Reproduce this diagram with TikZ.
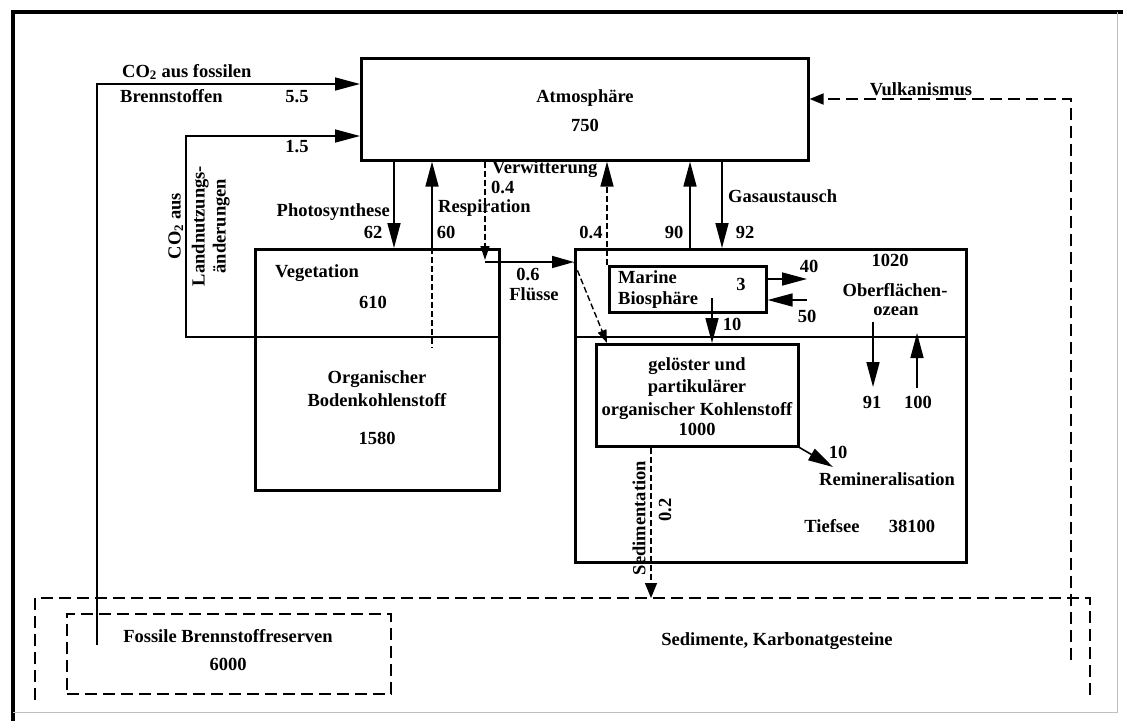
\documentclass[tikz,border=0pt]{standalone}
\usepackage{fontspec}
\setmainfont{Liberation Serif}
\usetikzlibrary{arrows.meta}
\begin{document}
\begin{tikzpicture}[x=1pt,y=-1pt,
  font=\fontsize{18.5}{21}\selectfont\bfseries,
  boxst/.style={draw, line width=2.6pt, inner sep=0, anchor=north west},
  dbox/.style={draw, line width=1.8pt, dash pattern=on 12pt off 6pt, inner sep=0, anchor=north west},
  arr/.style={line width=1.6pt, -{Triangle[length=25pt,width=13pt]}},
  fdsh/.style={line width=1.4pt, dash pattern=on 6pt off 3pt},
  sdsh/.style={line width=1.8pt, dash pattern=on 12pt off 6pt},
  lab/.style={inner sep=0, anchor=mid, yshift=-3pt},
  labw/.style={inner sep=0, anchor=mid west, yshift=-3pt},
  labe/.style={inner sep=0, anchor=mid east, yshift=-3pt},
  rlab/.style={inner sep=0, rotate=90, align=center}
]
\useasboundingbox (0,0) rectangle (1123,721);
% frame
\draw[line width=4pt] (1123,12) -- (13,12) -- (13,721);
\draw[black!25, line width=1pt] (1117,12) -- (1117,712) -- (13,712);

% boxes
\node[boxst, minimum width=447pt, minimum height=102pt] (atm) at (360,57) {};
\node[boxst, minimum width=244pt, minimum height=241pt] (veg) at (254,248) {};
\node[boxst, minimum width=391pt, minimum height=313pt] (ocn) at (574,248) {};
\node[boxst, minimum width=157pt, minimum height=46pt] (mar) at (608,265) {};
\node[boxst, minimum width=202pt, minimum height=102pt] (doc) at (595,343) {};
\node[dbox, minimum width=324pt, minimum height=80pt] (fos) at (66,613) {};

% dividers
\coordinate (vd1) at (veg.west |- 0,337);
\coordinate (vd2) at (veg.east |- 0,337);
\draw[line width=2.6pt] (vd1) -- (vd2);
\coordinate (od1) at (ocn.west |- 0,337);
\coordinate (od2) at (ocn.east |- 0,337);
\draw[line width=2.6pt] (od1) -- (od2);

% sediment region
\coordinate (sedBL) at (35,700);
\coordinate (sedTL) at (35,598);
\coordinate (sedTR) at (1090,598);
\coordinate (sedBR) at (1090,700);
\draw[sdsh] (sedBL) -- (sedTL) -- (sedTR) -- (sedBR);

% fossil fuel
\coordinate (fos0) at (97,645);
\draw[arr] (fos0) |- (atm.west |- 0,84);
% land use
\coordinate (lu) at (186,337);
\draw[arr] (vd1) -- (lu) |- (atm.west |- 0,136);
% photosynthesis
\draw[arr] (394,0 |- atm.south) -- (394,0 |- veg.north);
% respiration
\draw[fdsh] (432,0 |- veg.north) -- (432,348);
\draw[arr] (432,0 |- veg.north) -- (432,0 |- atm.south);
% weathering / rivers
\coordinate (wv) at (485,262);
\draw[fdsh, -{Triangle[length=14pt,width=9pt]}] (485,0 |- atm.south) -- (485,260);
\draw[line width=1.6pt, -{Triangle[length=22pt,width=12pt]}] (wv) -- (ocn.west |- wv);
\draw[fdsh, -{Triangle[length=13pt,width=9pt]}] (ocn.west |- wv) -- (607,0 |- doc.north);
\draw[fdsh, -{Triangle[length=25pt,width=13pt]}] (607,0 |- mar.north) -- (607,0 |- atm.south);
% gas exchange
\draw[arr] (690,0 |- ocn.north) -- (690,0 |- atm.south);
\draw[arr] (722,0 |- atm.south) -- (722,0 |- ocn.north);
% marine biosphere
\coordinate (mb0) at (712,298);
\draw[arr] (mb0) -- (mb0 |- doc.north);
\coordinate (m40) at (807,279);
\coordinate (m50) at (807,300);
\draw[arr] (mar.east |- m40) -- (m40);
\draw[arr] (m50) -- (mar.east |- m50);
% surface / deep
\coordinate (d91a) at (873,322);
\coordinate (d91b) at (873,387);
\draw[arr] (d91a) -- (d91b);
\coordinate (u100a) at (917,388);
\coordinate (u100b) at (917,333);
\draw[arr] (u100a) -- (u100b);
% remineralisation
\coordinate (rem) at (833,467);
\draw[arr] (doc.south east) -- (rem);
% sedimentation
\draw[fdsh, -{Triangle[length=15pt,width=12pt]}] (651,0 |- doc.south) -- (651,0 |- sedTL);
% volcanism
\coordinate (vk) at (1071,660);
\draw[sdsh, -{Triangle[length=14pt,width=11pt]}] (vk) |- (atm.east |- 0,99);

% labels
\node[lab] (tatm) at (585,97) {Atmosphäre};
\node[lab] (natm) at (585,126) {750};
\node[labw] (tco2) at (122,72) {CO\textsubscript{2} aus fossilen};
\node[labw] (tbr) at (120,97) {Brennstoffen};
\node[lab] (n55) at (297,97) {5.5};
\node[lab] (n15) at (297,147) {1.5};
\node[rlab] (tlu) at (199,226) {CO\textsubscript{2} aus\\[3pt]Landnutzungs-\\änderungen};
\node[labe] (tph) at (390,211) {Photosynthese};
\node[lab] (n62) at (373,233) {62};
\node[labw] (tresp) at (438,207) {Respiration};
\node[lab] (n60) at (446,233) {60};
\node[labw] (tverw) at (492,168) {Verwitterung};
\node[labw] (n04a) at (491,188) {0.4};
\node[lab] (n04b) at (591,233) {0.4};
\node[lab] (n90) at (674,233) {90};
\node[lab] (n92) at (745,233) {92};
\node[labw] (tgas) at (728,197) {Gasaustausch};
\node[lab] (n06) at (528,275) {0.6};
\node[lab] (tfl) at (534,295) {Flüsse};
\node[labw] (tveg) at (275,272) {Vegetation};
\node[lab] (n610) at (373,303) {610};
\node[lab] (torg) at (377,378) {Organischer};
\node[lab] (tbod) at (377,401) {Bodenkohlenstoff};
\node[lab] (n1580) at (377,439) {1580};
\node[lab] (tvulk) at (921,90) {Vulkanismus};
\node[lab] (n1020) at (890,261) {1020};
\node[lab] (tob) at (895,291) {Oberflächen-};
\node[lab] (toz) at (896,310) {ozean};
\node[labw] (tmar) at (618,278) {Marine};
\node[labw] (tbio) at (618,299) {Biosphäre};
\node[lab] (n3) at (741,285) {3};
\node[lab] (n10a) at (732,325) {10};
\node[lab] (n40) at (809,267) {40};
\node[lab] (n50) at (807,317) {50};
\node[lab] (n91) at (872,403) {91};
\node[lab] (n100) at (918,403) {100};
\node[lab] (tgel) at (697,365) {gelöster und};
\node[lab] (tpart) at (697,387) {partikulärer};
\node[lab] (torgk) at (697,410) {organischer Kohlenstoff};
\node[lab] (n1000) at (697,430) {1000};
\node[lab] (n10b) at (838,453) {10};
\node[lab] (trem) at (887,480) {Remineralisation};
\node[rlab] (tsed) at (639,518) {Sedimentation};
\node[rlab] (n02) at (665,510) {0.2};
\node[lab] (ttief) at (832,527) {Tiefsee};
\node[lab] (n38100) at (912,527) {38100};
\node[lab] (tfos) at (228,637) {Fossile Brennstoffreserven};
\node[lab] (n6000) at (228,665) {6000};
\node[lab] (tsedk) at (777,640) {Sedimente, Karbonatgesteine};
\end{tikzpicture}
\end{document}
